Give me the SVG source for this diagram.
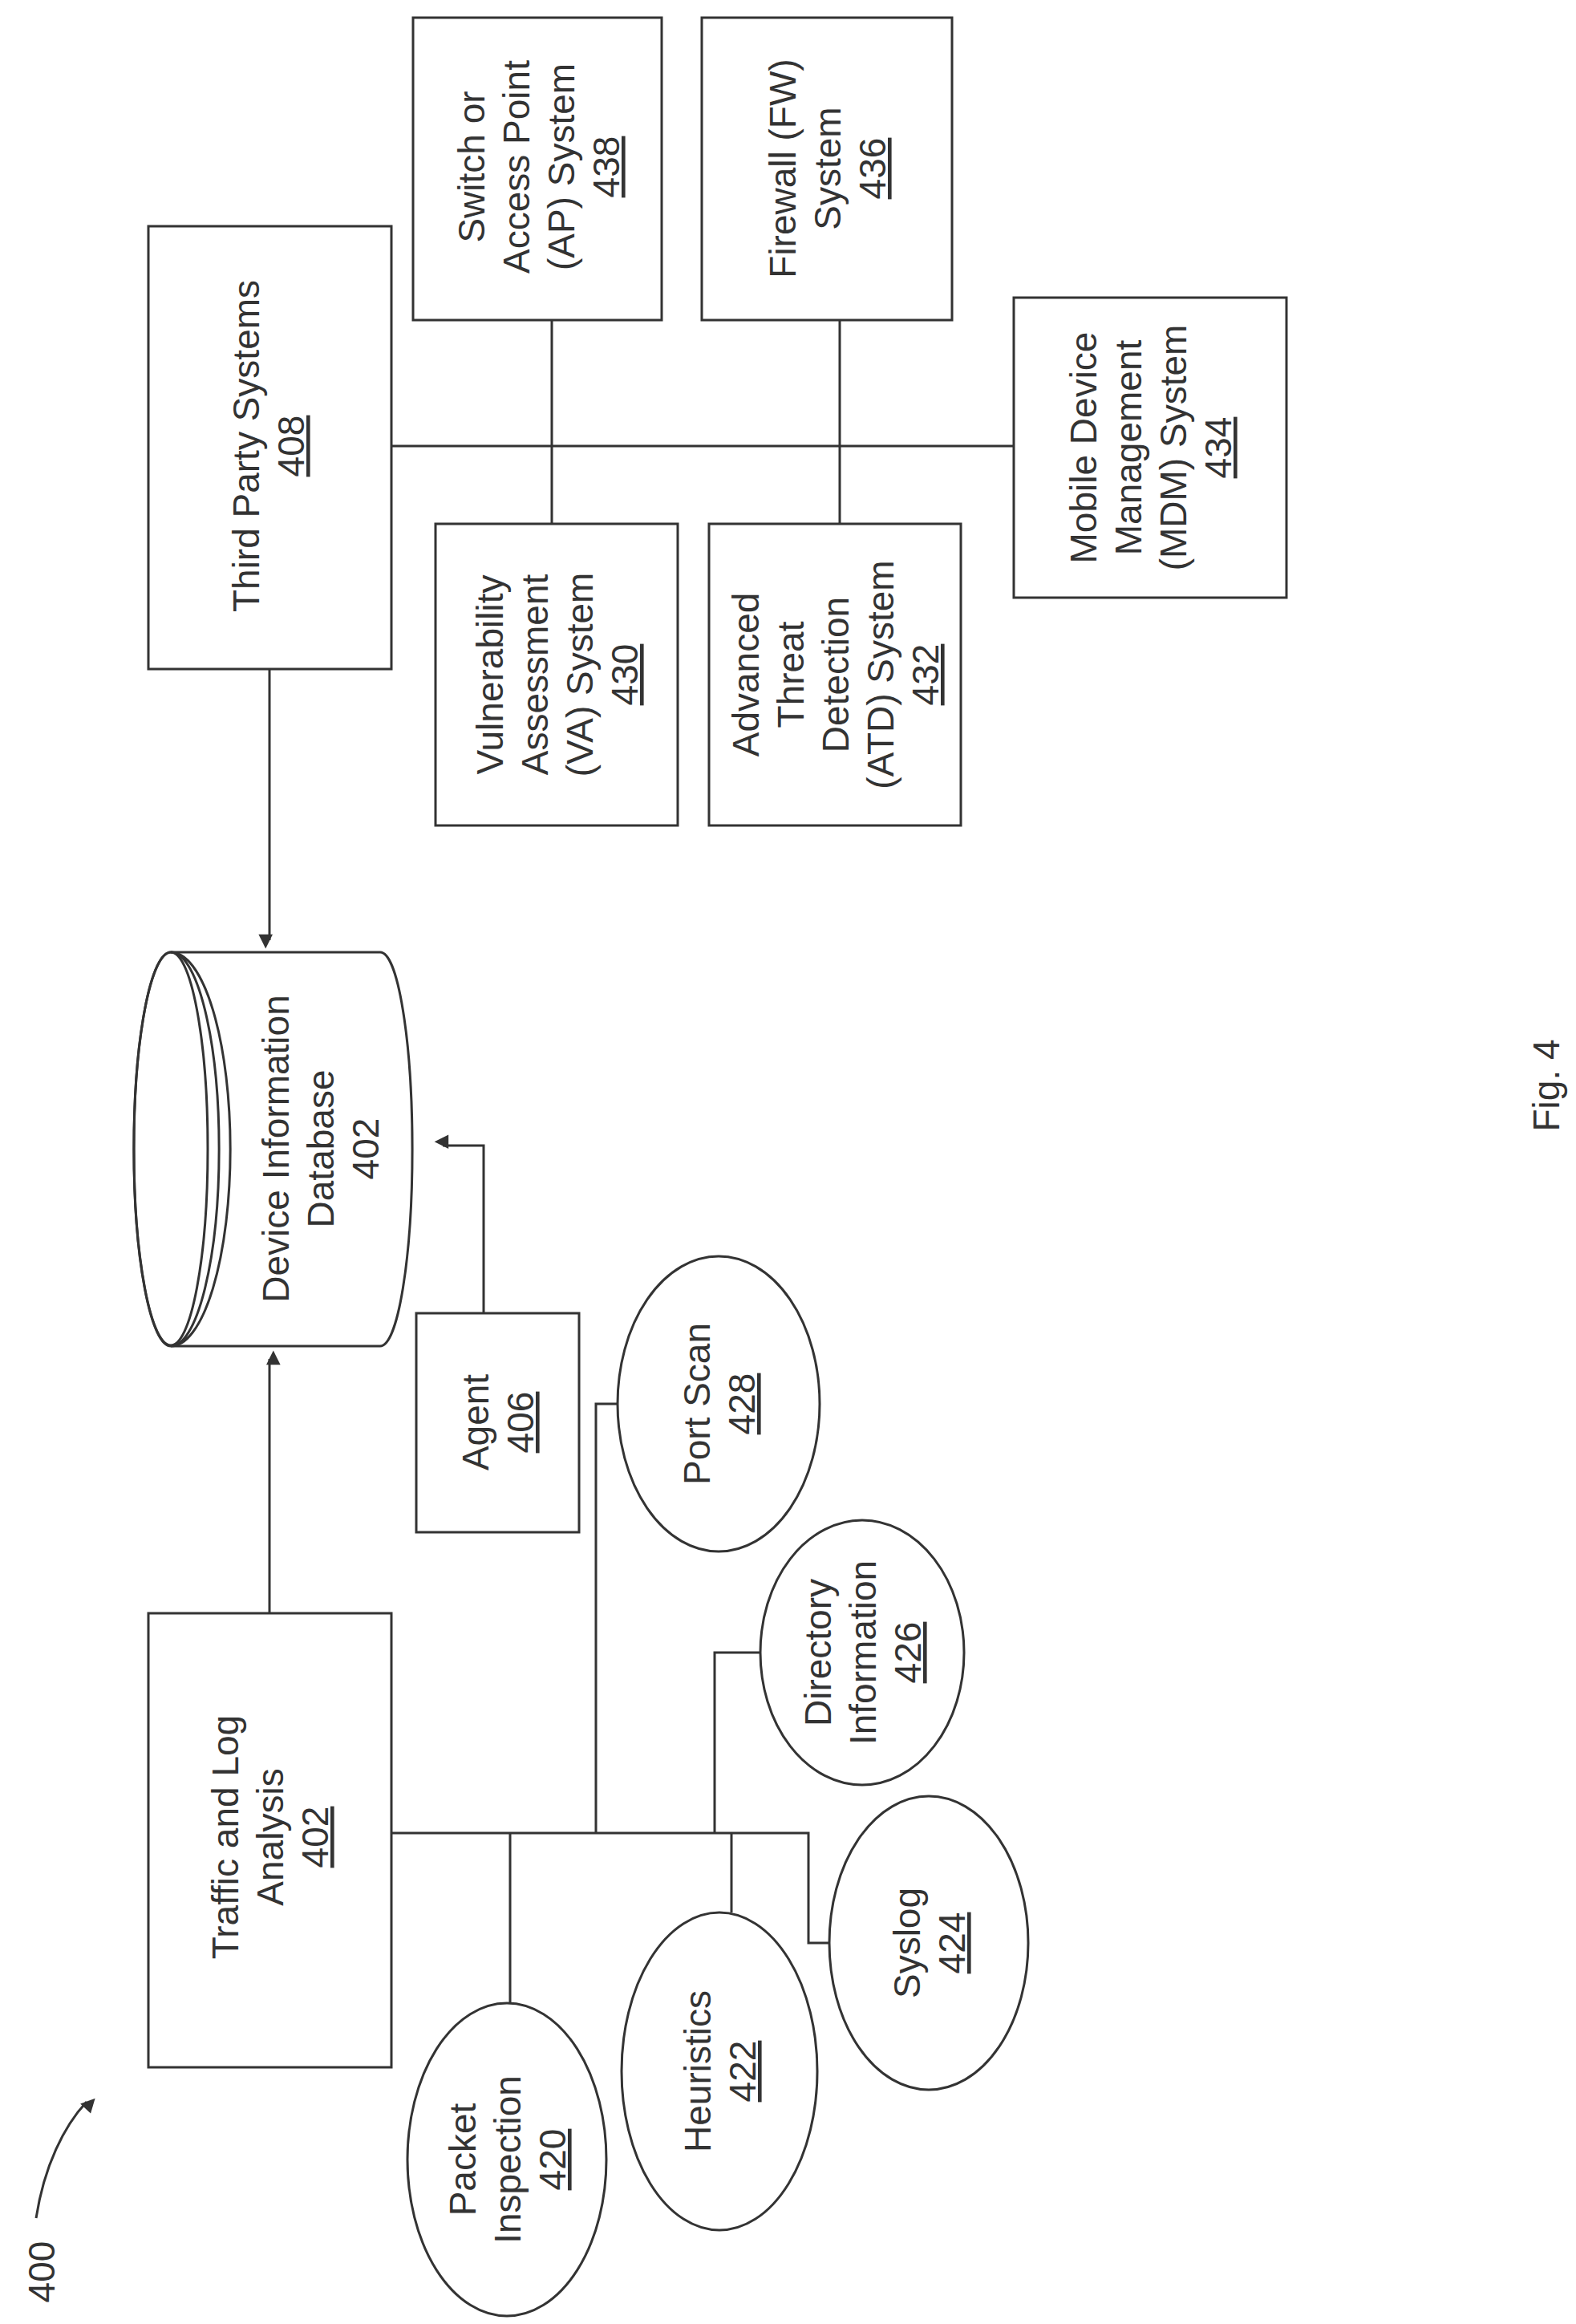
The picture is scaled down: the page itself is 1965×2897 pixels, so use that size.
<svg xmlns="http://www.w3.org/2000/svg" width="1965" height="2897" viewBox="0 0 1965 2897">
<style>
.b{fill:#fff;stroke:#333;stroke-width:3}
.l{fill:none;stroke:#333;stroke-width:3}
text{font-family:"Liberation Sans",Arial,sans-serif;font-size:46px;fill:#333;text-anchor:middle}
.u{text-decoration:underline}
</style>
<defs>
<marker id="a" viewBox="0 0 10 10" refX="9" refY="5" markerWidth="8" markerHeight="8" markerUnits="userSpaceOnUse" orient="auto" style="overflow:visible"><path d="M0,0L10,5L0,10z" fill="#333" transform="scale(2.2)" /></marker>
</defs>
<rect width="1965" height="2897" fill="#fff"/>
<g id="connectors">
<path class="l" d="M336,834V1172" marker-end="url(#a)"/>
<path class="l" d="M336,2011V1694" marker-end="url(#a)"/>
<path class="l" d="M603,1637V1428H552" marker-end="url(#a)"/>
<path class="l" d="M488,556H1264M688,399V653M1047,399V653"/>
<path class="l" d="M488,2285H1008V2422H1035M636,2285V2497M912,2285V2384M891,2285V2060H950M743,2285V1750H771"/>
<path class="l" d="M45,2765C55,2700 80,2650 108,2620" marker-end="url(#a)"/>
</g>
<g id="n400"><text transform="translate(52,2832) rotate(-90)" dy="16">400</text></g>
<g id="n408"><rect class="b" x="185" y="282" width="303" height="552"/>
<text transform="translate(334,556) rotate(-90)"><tspan x="0" y="-11">Third Party Systems</tspan><tspan x="0" y="45" class="u">408</tspan></text></g>
<g id="n438"><rect class="b" x="515" y="22" width="310" height="377"/>
<text transform="translate(671,208) rotate(-90)"><tspan x="0" y="-67">Switch or</tspan><tspan x="0" y="-11">Access Point</tspan><tspan x="0" y="45">(AP) System</tspan><tspan x="0" y="101" class="u">438</tspan></text></g>
<g id="n436"><rect class="b" x="875" y="22" width="312" height="377"/>
<text transform="translate(1031,210) rotate(-90)"><tspan x="0" y="-39">Firewall (FW)</tspan><tspan x="0" y="17">System</tspan><tspan x="0" y="73" class="u">436</tspan></text></g>
<g id="n430"><rect class="b" x="543" y="653" width="302" height="376"/>
<text transform="translate(694,841) rotate(-90)"><tspan x="0" y="-67">Vulnerability</tspan><tspan x="0" y="-11">Assessment</tspan><tspan x="0" y="45">(VA) System</tspan><tspan x="0" y="101" class="u">430</tspan></text></g>
<g id="n432"><rect class="b" x="884" y="653" width="314" height="376"/>
<text transform="translate(1041,841) rotate(-90)"><tspan x="0" y="-95">Advanced</tspan><tspan x="0" y="-39">Threat</tspan><tspan x="0" y="17">Detection</tspan><tspan x="0" y="73">(ATD) System</tspan><tspan x="0" y="129" class="u">432</tspan></text></g>
<g id="n434"><rect class="b" x="1264" y="371" width="340" height="374"/>
<text transform="translate(1434,558) rotate(-90)"><tspan x="0" y="-67">Mobile Device</tspan><tspan x="0" y="-11">Management</tspan><tspan x="0" y="45">(MDM) System</tspan><tspan x="0" y="101" class="u">434</tspan></text></g>
<g id="n402db">
<path class="b" d="M213,1187H474A40,245 0 0 1 474,1678H213A46,245 0 0 1 213,1187Z"/>
<ellipse class="l" cx="213" cy="1432" rx="46" ry="245"/>
<path class="l" d="M213,1187A60,245 0 0 1 213,1678M213,1187A74,245 0 0 1 213,1678"/>
<text transform="translate(399,1432) rotate(-90)"><tspan x="0" y="-39">Device Information</tspan><tspan x="0" y="17">Database</tspan><tspan x="0" y="73">402</tspan></text></g>
<g id="n402"><rect class="b" x="185" y="2011" width="303" height="566"/>
<text transform="translate(336,2290) rotate(-90)"><tspan x="0" y="-39">Traffic and Log</tspan><tspan x="0" y="17">Analysis</tspan><tspan x="0" y="73" class="u">402</tspan></text></g>
<g id="n406"><rect class="b" x="519" y="1637" width="203" height="273"/>
<text transform="translate(620,1773) rotate(-90)"><tspan x="0" y="-11">Agent</tspan><tspan x="0" y="45" class="u">406</tspan></text></g>
<g id="n420"><ellipse class="b" cx="632" cy="2692" rx="124" ry="195"/>
<text transform="translate(632,2692) rotate(-90)"><tspan x="0" y="-39">Packet</tspan><tspan x="0" y="17">Inspection</tspan><tspan x="0" y="73" class="u">420</tspan></text></g>
<g id="n422"><ellipse class="b" cx="897" cy="2582" rx="122" ry="198"/>
<text transform="translate(897,2582) rotate(-90)"><tspan x="0" y="-11">Heuristics</tspan><tspan x="0" y="45" class="u">422</tspan></text></g>
<g id="n424"><ellipse class="b" cx="1158" cy="2422" rx="124" ry="183"/>
<text transform="translate(1158,2422) rotate(-90)"><tspan x="0" y="-11">Syslog</tspan><tspan x="0" y="45" class="u">424</tspan></text></g>
<g id="n426"><ellipse class="b" cx="1075" cy="2060" rx="127" ry="165"/>
<text transform="translate(1075,2060) rotate(-90)"><tspan x="0" y="-39">Directory</tspan><tspan x="0" y="17">Information</tspan><tspan x="0" y="73" class="u">426</tspan></text></g>
<g id="n428"><ellipse class="b" cx="896" cy="1750" rx="126" ry="184"/>
<text transform="translate(896,1750) rotate(-90)"><tspan x="0" y="-11">Port Scan</tspan><tspan x="0" y="45" class="u">428</tspan></text></g>
<g id="fig"><text transform="translate(1928,1353) rotate(-90)" dy="16">Fig. 4</text></g>
</svg>
